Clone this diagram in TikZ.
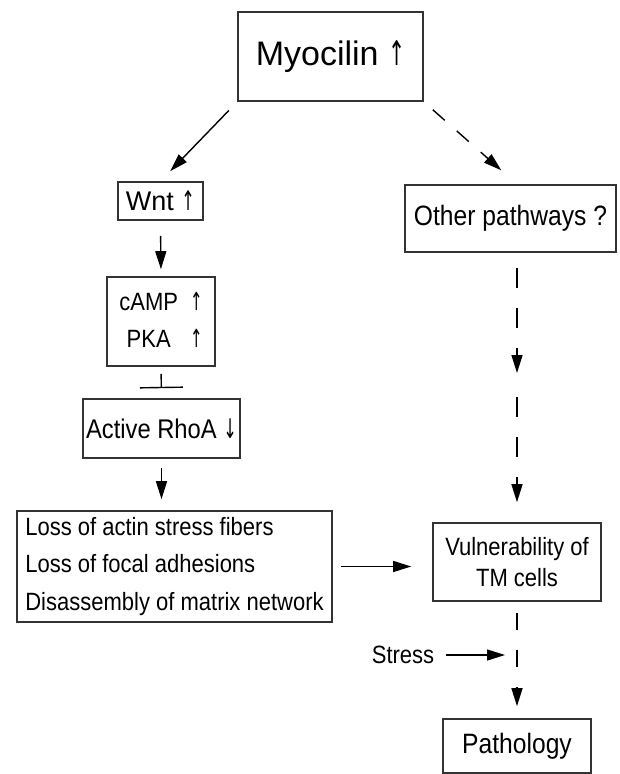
\documentclass[tikz,border=0pt]{standalone}
\usepackage{fontspec}
\setmainfont{Liberation Sans}[FakeStretch=0.88]
\newfontfamily\wideface{Liberation Sans}
\newfontfamily\arrowface{DejaVu Sans}[FakeStretch=0.6]
\newcommand{\upar}{{\arrowface ↑}}
\newcommand{\downar}{{\arrowface ↓}}
\usetikzlibrary{arrows.meta}

\begin{document}
\begin{tikzpicture}[x=1pt,y=-1pt]
    \tikzset{box/.style = {draw=black!80, line width=1.6pt, inner sep=0pt, align=center}}
    \tikzset{arr/.style = {-{Triangle[length=18pt,width=11pt]}, line width=1.4pt}}
    \tikzset{dasharr/.style = {arr, dash pattern=on 20pt off 20pt}}
    \useasboundingbox (0,0) rectangle (620,774);
    % boxes
    \node[box, minimum width=185pt, minimum height=89pt, font=\wideface\fontsize{34}{40}\selectfont] (myo) at (330.5,56.5) {Myocilin \upar};
    \node[box, minimum width=85pt, minimum height=38pt, font=\wideface\fontsize{27}{32}\selectfont] (wnt) at (160.5,201) {Wnt \upar};
    \node[box, minimum width=108pt, minimum height=89pt, font=\fontsize{25}{37}\selectfont] (camp) at (161,321.5)
        {\begin{tabular}{@{}c@{\hspace{12pt}}c@{}}cAMP & \upar\\ PKA & \upar\end{tabular}};
    \node[box, minimum width=157pt, minimum height=59pt, font=\fontsize{27}{32}\selectfont] (rhoa) at (161.5,428.5) {Active RhoA \downar};
    \node[box, minimum width=315pt, minimum height=111pt, align=left, font=\fontsize{25}{37.5}\selectfont] (loss) at (174.5,566.5)
        {Loss of actin stress fibers\\ Loss of focal adhesions\\ Disassembly of matrix network};
    \node[box, minimum width=211pt, minimum height=67pt, font=\fontsize{28}{33}\selectfont] (other) at (510.5,218.5) {Other pathways ?};
    \node[box, minimum width=168pt, minimum height=78pt, font=\fontsize{25}{31}\selectfont] (vul) at (517,562) {Vulnerability of\\ TM cells};
    \node[box, minimum width=148pt, minimum height=54pt, font=\fontsize{28}{33}\selectfont] (path) at (517,746) {Pathology};
    \node[font=\fontsize{25}{30}\selectfont] (stress) at (403,655) {Stress};
    \coordinate (join) at (517,373);
    \coordinate (hit) at (517,655);
    % left branch
    \draw[arr, shorten <=12pt, shorten >=14pt] (myo.south west) -- (wnt.north);
    \draw[arr, shorten <=15pt, shorten >=7pt] (wnt.south) -- (camp.north);
    \draw[-{Bar[width=43pt]}, line width=1.4pt, shorten <=7pt, shorten >=10pt] (camp.south) -- (rhoa.north);
    \draw[arr, shorten <=9pt, shorten >=11pt] (rhoa.south) -- (rhoa.south |- loss.north);
    \draw[arr, shorten <=8pt, shorten >=21pt] (loss.east) -- (loss.east -| vul.west);
    % right branch
    \draw[arr, dash pattern=on 16pt off 16pt, shorten <=12pt, shorten >=21pt] (myo.south east) -- (join |- other.north);
    \draw[dasharr, shorten <=15pt] (join |- other.south) -- (join);
    \draw[dasharr, shorten <=24pt, shorten >=20pt] (join) -- (vul.north);
    \draw[arr, dash pattern=on 17pt off 20pt, shorten <=11pt, shorten >=12pt] (vul.south) -- (path.north);
    \draw[arr, shorten <=8pt, shorten >=12pt] (stress.east) -- (hit);
\end{tikzpicture}
\end{document}
